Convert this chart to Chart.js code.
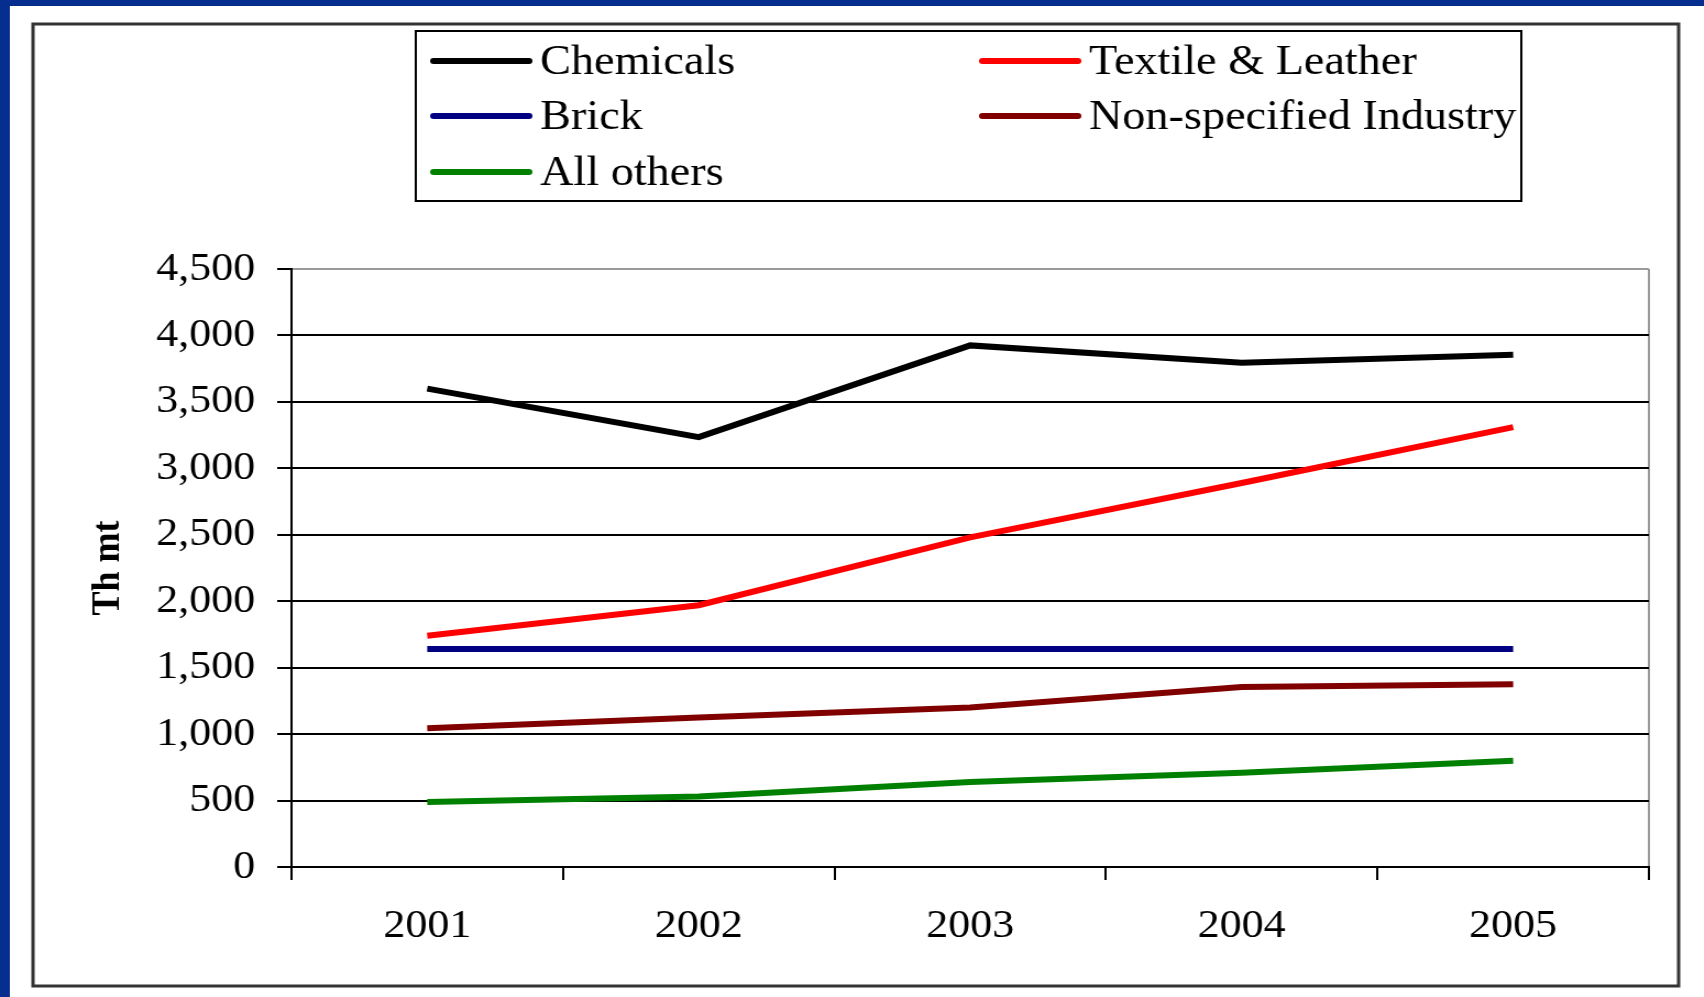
<!DOCTYPE html>
<html>
<head>
<meta charset="utf-8">
<title>Industry consumption</title>
<script src="https://cdn.jsdelivr.net/npm/chart.js@4.4.1/dist/chart.umd.min.js"></script>
<style>
    body { margin: 0; background: #fff; overflow: hidden; }
    /* the original picture is a bit wider than tall, stretch the whole canvas */
    canvas { display: block; transform: scaleX(1.1); transform-origin: 0 0; }
</style>
</head>
<body>
<canvas id="lineChart" width="1550" height="997"></canvas>
<script>
const years = ['2001', '2002', '2003', '2004', '2005'];

const chemicals = [3600, 3235, 3925, 3795, 3855];
const textileLeather = [1740, 1970, 2480, 2890, 3310];
const brick = [1640, 1640, 1640, 1640, 1640];
const nonSpecified = [1045, 1125, 1200, 1355, 1375];
const allOthers = [490, 530, 640, 710, 800];

const yMin = 0;
const yMax = 4500;
const yStep = 500;

const seriesNames = ['Chemicals', 'Textile & Leather', 'Brick', 'Non-specified Industry', 'All others'];
const seriesColors = ['#000000', '#ff0000', '#000080', '#800000', '#008000'];

const serif = "'Liberation Serif', 'Times New Roman', serif";

// background, blue edge and outer frame
const framePlugin = {
    id: 'frame',
    beforeDraw(chart) {
        const ctx = chart.ctx;
        ctx.save();
        ctx.fillStyle = '#ffffff';
        ctx.fillRect(0, 0, chart.width, chart.height);
        ctx.fillStyle = '#062e8e';
        ctx.fillRect(0, 0, chart.width, 6);
        ctx.fillRect(0, 0, 9, chart.height);
        ctx.strokeStyle = '#333333';
        ctx.lineWidth = 3;
        ctx.strokeRect(30, 24, 1496, 962);
        ctx.restore();
    }
};

// legend in a box, two columns
const boxLegendPlugin = {
    id: 'boxLegend',
    afterDraw(chart) {
        const ctx = chart.ctx;
        ctx.save();
        ctx.strokeStyle = '#000';
        ctx.lineWidth = 2;
        ctx.strokeRect(378, 31, 1005, 170);
        ctx.font = '42px ' + serif;
        ctx.textBaseline = 'middle';
        ctx.fillStyle = '#000';
        const colX = [394, 893];
        const rowY = [61, 116, 172];
        chart.data.datasets.forEach((ds, i) => {
            const x = colX[i % 2];
            const y = rowY[Math.floor(i / 2)];
            ctx.strokeStyle = ds.borderColor;
            ctx.lineWidth = 6;
            ctx.lineCap = 'round';
            ctx.beginPath();
            ctx.moveTo(x, y);
            ctx.lineTo(x + 87, y);
            ctx.stroke();
            ctx.fillText(ds.label, x + 97, y + 2);
        });
        ctx.restore();
    }
};

const seriesData = [chemicals, textileLeather, brick, nonSpecified, allOthers];

new Chart(document.getElementById('lineChart').getContext('2d'), {
    type: 'line',
    data: {
        labels: years,
        datasets: seriesData.map((values, i) => ({
            label: seriesNames[i],
            data: values,
            borderColor: seriesColors[i],
            backgroundColor: seriesColors[i],
            borderWidth: 6,
            pointRadius: 0,
            tension: 0,
            fill: false
        }))
    },
    options: {
        responsive: false,
        animation: false,
        devicePixelRatio: 1,
        layout: {
            padding: { top: 269, right: 51, left: 0, bottom: 0 }
        },
        plugins: {
            legend: { display: false },
            tooltip: { enabled: false }
        },
        scales: {
            x: {
                offset: true,
                afterFit(scale) { scale.height = 130; },
                grid: {
                    offset: true,
                    drawOnChartArea: true,
                    color: ctx => ctx.tick ? 'rgba(0,0,0,0)' : '#9a9a9a',
                    tickColor: '#000',
                    tickLength: 13,
                    lineWidth: 2
                },
                border: { color: '#000', width: 2 },
                ticks: {
                    color: '#000',
                    padding: 22,
                    font: { family: serif, size: 40 }
                }
            },
            y: {
                min: yMin,
                max: yMax,
                afterFit(scale) { scale.width = 265; },
                grid: {
                    color: ctx => ctx.tick && ctx.tick.value === yMax ? '#9a9a9a' : '#000',
                    tickColor: '#000',
                    tickLength: 13,
                    lineWidth: 2
                },
                border: { color: '#000', width: 2 },
                ticks: {
                    stepSize: yStep,
                    color: '#000',
                    padding: 20,
                    font: { family: serif, size: 40 },
                    callback: value => value.toLocaleString('en-US')
                },
                title: {
                    display: true,
                    text: 'Th mt',
                    color: '#000',
                    padding: { top: 77, bottom: 0 },
                    font: { family: serif, size: 36, weight: 'bold' }
                }
            }
        }
    },
    plugins: [framePlugin, boxLegendPlugin]
});
</script>
</body>
</html>
